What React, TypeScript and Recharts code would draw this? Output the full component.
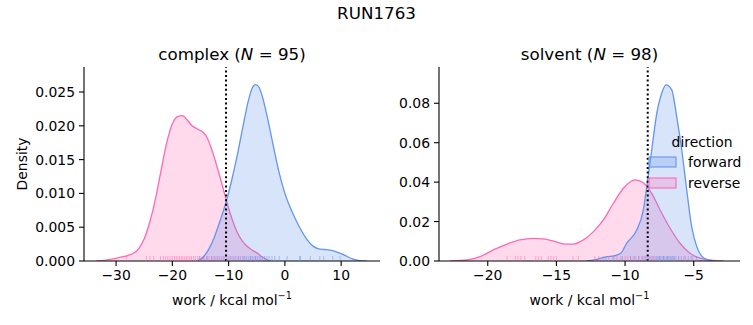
import React from "react";
import {
  ComposedChart,
  Area,
  Scatter,
  XAxis,
  YAxis,
  ReferenceLine,
} from "recharts";

// KDE curves (x = work, y = density)
const complexFwdX = [-15.6, -14.5, -13.5, -12.5, -11.5, -10.5, -9.5, -8.5, -7.5, -6.5, -5.8, -5.2, -4.6, -3.8, -3.0, -2.0, -1.0, 0, 1, 2, 3, 4, 5, 6, 7, 8, 9, 10, 11, 12, 13, 14.5];
const complexFwdY = [0, 0.0006, 0.0018, 0.0036, 0.006, 0.0086, 0.0118, 0.0155, 0.0197, 0.0237, 0.0256, 0.0261, 0.0257, 0.0237, 0.0208, 0.0168, 0.013, 0.01, 0.0078, 0.006, 0.0044, 0.0031, 0.0022, 0.0018, 0.0017, 0.0016, 0.0014, 0.0011, 0.0007, 0.0003, 0.0001, 0];
const complexRevX = [-33.5, -32, -30.5, -29, -28, -27, -26, -25, -24, -23, -22, -21, -20, -19, -18.2, -17.5, -16.5, -15.5, -14.5, -13.8, -13, -12, -11, -10, -9, -8, -7, -6, -5, -4, -3, -2.5];
const complexRevY = [0, 0.0001, 0.0003, 0.0006, 0.0008, 0.0011, 0.0018, 0.0033, 0.0058, 0.0092, 0.0134, 0.0175, 0.0203, 0.0214, 0.0215, 0.021, 0.02, 0.0195, 0.019, 0.0182, 0.0165, 0.0138, 0.0108, 0.0078, 0.0053, 0.0035, 0.0024, 0.0017, 0.0012, 0.0006, 0.0001, 0];

const solventFwdX = [-12.8, -12, -11.3, -10.8, -10.3, -9.88, -9.15, -8.67, -8.42, -8.06, -7.69, -7.33, -7.02, -6.6, -6.24, -5.87, -5.51, -5.15, -4.78, -4.42, -3.93, -3.5];
const solventFwdY = [0, 0.001, 0.0022, 0.0026, 0.004, 0.009, 0.0157, 0.0259, 0.0377, 0.0563, 0.0749, 0.0851, 0.0893, 0.0868, 0.0732, 0.0563, 0.036, 0.0174, 0.0073, 0.0025, 0.0005, 0];
const solventRevX = [-22.74, -21.5, -20.56, -19.6, -18.6, -17.65, -16.7, -15.95, -15.2, -14.37, -13.76, -13.03, -12.3, -11.58, -10.85, -10.12, -9.27, -8.67, -8.06, -7.45, -6.72, -6.0, -5.27, -4.54, -3.57, -2.84];
const solventRevY = [0, 0.0005, 0.0022, 0.0056, 0.0086, 0.0107, 0.0115, 0.0112, 0.0101, 0.0086, 0.0086, 0.0107, 0.0149, 0.0208, 0.0293, 0.0369, 0.0411, 0.0397, 0.0343, 0.0259, 0.0166, 0.009, 0.0039, 0.0014, 0.0003, 0];

// rug samples
const complexFwdRug = [-15.2, -14.5, -13.8, -13.0, -12.4, -11.9, -11.3, -10.8, -10.1, -9.6, -9.2, -8.7, -8.3, -7.9, -7.5, -7.1, -6.8, -6.4, -6.1, -5.8, -5.5, -5.2, -4.9, -4.6, -4.3, -4.0, -3.6, -3.2, -2.8, -2.3, -1.8, -1.0, 0.4, 2.6, 2.8, 4.5, 6.2, 6.9, 8.5, 9.8];
const complexRevRug = [-28.1, -24.6, -24.0, -23.3, -22.1, -21.6, -21.2, -20.8, -20.4, -20.0, -19.6, -19.3, -19.0, -18.7, -18.4, -18.1, -17.8, -17.5, -17.2, -16.9, -16.6, -16.2, -15.9, -15.5, -15.1, -14.7, -14.3, -13.9, -13.5, -13.0, -12.6, -12.1, -11.6, -11.0, -10.4, -9.7, -9.0, -8.2, -7.3, -6.1, -5.2];
const solventFwdRug = [-11.4, -10.8, -10.2, -9.6, -9.3, -9.0, -8.7, -8.5, -8.3, -8.1, -7.9, -7.7, -7.6, -7.5, -7.4, -7.3, -7.2, -7.1, -7.0, -6.9, -6.8, -6.7, -6.6, -6.5, -6.4, -6.3, -6.1, -5.9, -5.7, -5.4, -5.1, -4.8];
const solventRevRug = [-18.6, -18.0, -17.8, -17.6, -17.3, -16.5, -16.3, -16.1, -15.6, -15.4, -15.2, -15.0, -13.8, -13.4, -12.2, -11.9, -11.6, -11.2, -10.9, -10.6, -10.3, -10.0, -9.8, -9.6, -9.4, -9.2, -9.0, -8.8, -8.6, -8.4, -8.2, -8.0, -7.8, -7.5, -7.2, -6.9, -6.5, -6.1, -5.6, -5.2];

const complexMark = -10.46;
const solventMark = -8.35;

const complexXTicks = [-30, -20, -10, 0, 10];
const complexYTicks = [0, 0.005, 0.01, 0.015, 0.02, 0.025];
const solventXTicks = [-20, -15, -10, -5];
const solventYTicks = [0, 0.02, 0.04, 0.06, 0.08];

const BLUE = "#6495ED";
const PINK = "#FF69B4";
const FONT = "DejaVu Sans";

function merge(fx: number[], fy: number[], rx: number[], ry: number[]) {
  const m = new Map<number, any>();
  fx.forEach((x, i) => m.set(x, { ...(m.get(x) || { x }), fwd: fy[i] }));
  rx.forEach((x, i) => m.set(x, { ...(m.get(x) || { x }), rev: ry[i] }));
  return Array.from(m.values()).sort((a, b) => a.x - b.x);
}

const rug = (xs: number[]) => xs.map((x) => ({ x, y: 0 }));

const fmtX = (v: number) => String(v).replace("-", "\u2212");

const RugTick = (color: string) => (p: any) => (
  <line x1={p.cx} x2={p.cx} y1={p.cy} y2={p.cy - 5} stroke={color} strokeWidth={1} strokeOpacity={0.5} />
);

const tickStyle = { fontSize: 13.9, fill: "#000", fontFamily: FONT };
const axisStyle = { stroke: "#000", strokeWidth: 1.1 };

const Panel = ({ data, xDomain, yDomain, xTicks, yTicks, yDigits, mark, fwdRug, revRug, width, yWidth, right }: any) => (
  <ComposedChart
    width={width}
    height={325}
    data={data}
    margin={{ top: 67, right, bottom: 34, left: 0 }}
  >
    <XAxis
      type="number"
      dataKey="x"
      domain={xDomain}
      allowDataOverflow
      ticks={xTicks}
      tickFormatter={fmtX}
      tick={tickStyle}
      tickSize={5}
      tickMargin={4}
      height={30}
      axisLine={axisStyle}
      tickLine={axisStyle}
    />
    <YAxis
      type="number"
      domain={yDomain}
      allowDataOverflow
      ticks={yTicks}
      tickFormatter={(v: number) => v.toFixed(yDigits)}
      tick={tickStyle}
      tickSize={5}
      tickMargin={4}
      width={yWidth}
      axisLine={axisStyle}
      tickLine={axisStyle}
    />
    <Area type="monotone" dataKey="rev" connectNulls stroke={PINK} strokeWidth={1.3} fill={PINK} fillOpacity={0.25} dot={false} activeDot={false} isAnimationActive={false} />
    <Area type="monotone" dataKey="fwd" connectNulls stroke={BLUE} strokeWidth={1.3} fill={BLUE} fillOpacity={0.25} dot={false} activeDot={false} isAnimationActive={false} />
    <Scatter data={rug(revRug)} dataKey="y" shape={RugTick(PINK)} isAnimationActive={false} />
    <Scatter data={rug(fwdRug)} dataKey="y" shape={RugTick(BLUE)} isAnimationActive={false} />
    <ReferenceLine x={mark} stroke="#000" strokeWidth={2} strokeDasharray="2 2.6" />
  </ComposedChart>
);

export default function App() {
  const complexData = merge(complexFwdX, complexFwdY, complexRevX, complexRevY);
  const solventData = merge(solventFwdX, solventFwdY, solventRevX, solventRevY);
  const label = { fontFamily: FONT, fontSize: 13.9, fill: "#000" };
  const title = { fontFamily: FONT, fontSize: 16.7, fill: "#000" };
  return (
    <div style={{ position: "absolute", left: 0, top: 0, width: 753, height: 325, background: "#fff", fontFamily: FONT }}>
      <div style={{ position: "absolute", left: 0, top: 0 }}>
        <Panel data={complexData} xDomain={[-35.7, 16.9]} yDomain={[0, 0.0287]} xTicks={complexXTicks} yTicks={complexYTicks} yDigits={3} mark={complexMark} fwdRug={complexFwdRug} revRug={complexRevRug} width={390} yWidth={84} right={10} />
      </div>
      <div style={{ position: "absolute", left: 380, top: 0 }}>
        <Panel data={solventData} xDomain={[-23.55, -1.63]} yDomain={[0, 0.0984]} xTicks={solventXTicks} yTicks={solventYTicks} yDigits={2} mark={solventMark} fwdRug={solventFwdRug} revRug={solventRevRug} width={373} yWidth={59} right={13} />
      </div>
      <svg width={753} height={325} style={{ position: "absolute", left: 0, top: 0, pointerEvents: "none" }}>
        <text x={376.5} y={19} textAnchor="middle" {...title}>RUN1763</text>
        <text x={232} y={60} textAnchor="middle" {...title}>
          complex (<tspan fontStyle="italic">N</tspan> = 95)
        </text>
        <text x={589.5} y={60} textAnchor="middle" {...title}>
          solvent (<tspan fontStyle="italic">N</tspan> = 98)
        </text>
        <text x={232} y={305} textAnchor="middle" {...label}>
          work / kcal mol<tspan dy={-6} fontSize={9.7}>{"\u22121"}</tspan>
        </text>
        <text x={589.5} y={305} textAnchor="middle" {...label}>
          work / kcal mol<tspan dy={-6} fontSize={9.7}>{"\u22121"}</tspan>
        </text>
        <text x={27} y={164} textAnchor="middle" transform="rotate(-90 27 164)" {...label}>Density</text>
        <text x={702} y={147} textAnchor="middle" {...label}>direction</text>
        <rect x={649} y={157} width={27} height={10} fill={BLUE} fillOpacity={0.25} stroke={BLUE} strokeWidth={1.1} />
        <text x={688} y={167} {...label}>forward</text>
        <rect x={649} y={178} width={27} height={10} fill={PINK} fillOpacity={0.25} stroke={PINK} strokeWidth={1.1} />
        <text x={688} y={188} {...label}>reverse</text>
      </svg>
    </div>
  );
}
